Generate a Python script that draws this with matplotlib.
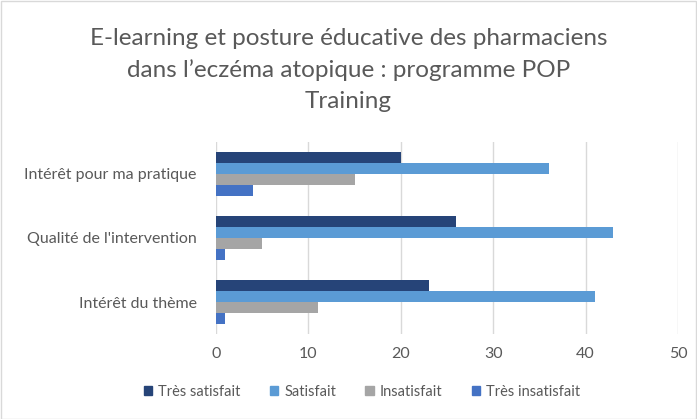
import matplotlib
matplotlib.use("Agg")
import matplotlib.pyplot as plt
import numpy as np
from matplotlib.patches import Rectangle

categories = ["Intérêt du thème", "Qualité de l'intervention", "Intérêt pour ma pratique"]
series_names = ["Très satisfait", "Satisfait", "Insatisfait", "Très insatisfait"]
tres_satisfait = [23, 26, 20]
satisfait = [41, 43, 36]
insatisfait = [11, 5, 15]
tres_insatisfait = [1, 1, 4]
xticks = [0, 10, 20, 30, 40, 50]
title = "E-learning et posture éducative des pharmaciens\ndans l’eczéma atopique : programme POP\nTraining"

colors = ["#264478", "#5B9BD5", "#A5A5A5", "#4472C4"]
values = [tres_satisfait, satisfait, insatisfait, tres_insatisfait]

plt.rcParams['font.family'] = ['Lato', 'DejaVu Sans']

W, H = 697, 419
fig = plt.figure(figsize=(W/100, H/100), dpi=100)
fig.patches.append(Rectangle((0.5/W, 0.5/H), 1-1.5/W, 1-1.5/H, transform=fig.transFigure,
                             fill=False, edgecolor="#D9D9D9", linewidth=1))

ax = fig.add_axes([216/W, 1-334/H, (678-216)/W, 192/H])
y = np.arange(len(categories))
bh = 0.172
for i, (name, vals, c) in enumerate(zip(series_names, values, colors)):
    offs = (1.5 - i) * bh
    ax.barh(y + offs, vals, height=bh, color=c, label=name, zorder=3)

ax.set_xlim(0, 50)
ax.set_ylim(-0.5, len(categories) - 0.5)
ax.set_xticks(xticks)
ax.set_yticks(y)
ax.set_yticklabels(categories)
ax.grid(axis="x", color="#D9D9D9", linewidth=1, zorder=0)
for s in ax.spines.values():
    s.set_visible(False)
ax.tick_params(axis="both", length=0, colors="#595959", labelsize=11.5)
ax.tick_params(axis="y", pad=14)
ax.tick_params(axis="x", pad=9)

fig.text(0.5, 1-70/H, title, ha="center", va="center", fontsize=17.5, color="#595959",
         linespacing=1.6)

handles = [Rectangle((0, 0), 1, 1, color=c) for c in colors]
fig.legend(handles, series_names, loc="center", bbox_to_anchor=(362/W, 1-392/H), ncol=4,
           frameon=False, fontsize=10.5, labelcolor="#595959", handlelength=0.6, handleheight=0.6,
           columnspacing=2.0, handletextpad=0.4)

fig.savefig("out.png", dpi=100)
